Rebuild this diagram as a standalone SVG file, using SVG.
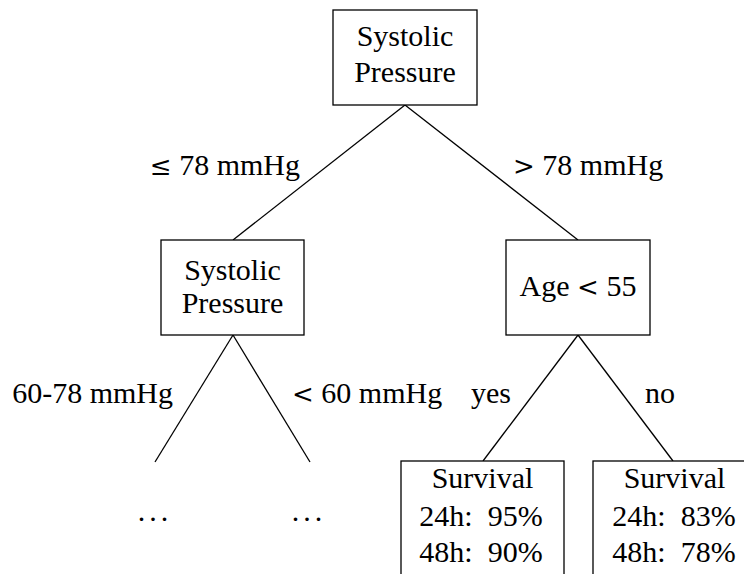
<svg xmlns="http://www.w3.org/2000/svg" width="744" height="574" viewBox="0 0 744 574">
<style>
rect.box{fill:#fff;stroke:#000;stroke-width:1.3}
line{stroke:#000;stroke-width:1.3}
text{font-family:"Liberation Serif","DejaVu Serif",serif;font-size:30px;fill:#000;white-space:pre}
.c{text-anchor:middle}
.e{text-anchor:end}
.s{text-anchor:start}
.m{font-family:"DejaVu Serif",serif;font-size:26px}
</style>
<rect width="744" height="574" fill="#fff"/>
<g id="connectors">
<line x1="405" y1="105" x2="233" y2="240"/>
<line x1="405" y1="105" x2="578" y2="240"/>
<line x1="233" y1="335" x2="155" y2="462"/>
<line x1="233" y1="335" x2="310" y2="462"/>
<line x1="578" y1="335" x2="483" y2="461"/>
<line x1="578" y1="335" x2="673" y2="461"/>
</g>
<g id="edge-labels">
<text class="e" x="300" y="175"><tspan class="m">≤</tspan> 78 mmHg</text>
<text class="s" x="513" y="175"><tspan class="m">&gt;</tspan> 78 mmHg</text>
<text class="e" x="173" y="403">60-78 mmHg</text>
<text class="s" x="292" y="403"><tspan class="m">&lt;</tspan> 60 mmHg</text>
<text class="e" x="511" y="403">yes</text>
<text class="s" x="645" y="403">no</text>
</g>
<g id="root">
<rect class="box" x="333" y="10" width="144" height="95"/>
<text class="c" x="405" y="46">Systolic</text>
<text class="c" x="405" y="82">Pressure</text>
</g>
<g id="systolic2">
<rect class="box" x="161" y="240" width="143" height="95"/>
<text class="c" x="232.5" y="280">Systolic</text>
<text class="c" x="232.5" y="313">Pressure</text>
</g>
<g id="age">
<rect class="box" x="506" y="240" width="144" height="95"/>
<text class="c" x="578" y="296">Age <tspan class="m">&lt;</tspan> 55</text>
</g>
<g id="dots-left">
<text class="c" x="155" y="521" style="letter-spacing:4px">...</text>
</g>
<g id="dots-right">
<text class="c" x="309" y="521" style="letter-spacing:4px">...</text>
</g>
<g id="leaf-yes">
<rect class="box" x="401" y="461" width="163" height="125"/>
<text class="c" x="482.5" y="488">Survival</text>
<text class="c" x="481" y="526">24h:  95%</text>
<text class="c" x="481" y="562">48h:  90%</text>
</g>
<g id="leaf-no">
<rect class="box" x="593" y="461" width="163" height="125"/>
<text class="c" x="674.5" y="488">Survival</text>
<text class="c" x="674" y="526">24h:  83%</text>
<text class="c" x="674" y="562">48h:  78%</text>
</g>
</svg>
